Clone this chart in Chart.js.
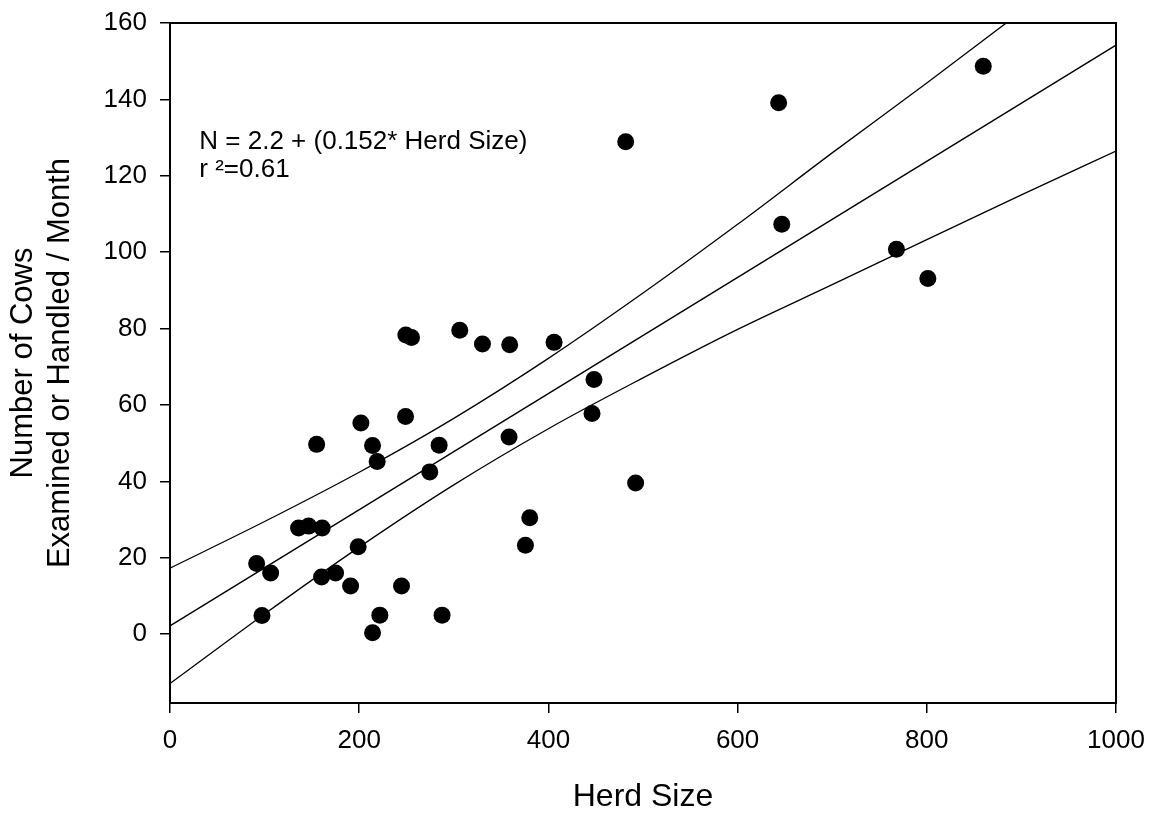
<!DOCTYPE html>
<html>
<head>
<meta charset="utf-8">
<script src="https://cdn.jsdelivr.net/npm/chart.js@4/dist/chart.umd.min.js"></script>
<style>
  html, body { margin: 0; padding: 0; background: #fff; }
  #wrap { width: 1149px; height: 814px; }
</style>
</head>
<body>
<div id="wrap"><canvas id="chart" width="1149" height="814"></canvas></div>
<script>
// Datos
const herdSize = [
  91.6, 97.2, 106.4, 135.9, 146.5, 160.9, 155.0, 160.2, 175.0, 190.9,
  198.9, 201.8, 214.1, 219.0, 214.1, 221.8, 244.7, 249.3, 255.3, 249.0,
  274.6, 284.5, 287.6, 306.3, 330.3, 359.1, 358.4, 380.3, 375.7, 406.0,
  448.2, 446.1, 492.2, 481.7, 643.4, 646.7, 767.9, 801.1, 859.7
];
const cowsPerMonth = [
  18.5, 4.9, 16.0, 27.8, 28.3, 27.8, 49.7, 15.0, 16.0, 12.6,
  22.9, 55.3, 49.4, 45.2, 0.4, 5.0, 12.6, 78.3, 77.7, 57.0,
  42.5, 49.5, 5.0, 79.6, 76.0, 75.8, 51.6, 30.5, 23.3, 76.4,
  66.7, 57.8, 39.6, 128.9, 139.1, 107.3, 100.8, 93.1, 148.7
];

// Recta de regresion (extremos leidos)
const fitX = [0, 1000];
const fitY = [2.2, 154.2];

// Bandas de confianza (valores leidos cada 100)
const bandX = [0, 100, 200, 300, 400, 500, 600, 700, 800, 900, 1000];
const upperBand = [17.3, 29.5, 42.4, 56.5, 72.2, 89.3, 107.3, 126.0, 144.3, 163.0, 181.9];
const lowerBand = [-12.9, 5.3, 22.8, 39.1, 53.8, 67.1, 79.8, 91.5, 103.3, 115.0, 126.5];

const xTicks = [0, 200, 400, 600, 800, 1000];
const annotationLines = ['N = 2.2 + (0.152* Herd Size)', 'r \u00b2=0.61'];

const FONT = '"Liberation Sans", Arial, Helvetica, sans-serif';

function toXY(xs, ys) {
  return xs.map((x, i) => ({ x: x, y: ys[i] }));
}

// Marco completo alrededor del area del grafico + texto de la ecuacion
const framePlugin = {
  id: 'frame',
  afterDatasetsDraw(chart) {
    const { ctx, chartArea, scales } = chart;
    ctx.save();
    ctx.strokeStyle = '#000';
    ctx.lineWidth = 2;
    ctx.strokeRect(chartArea.left, chartArea.top, chartArea.right - chartArea.left, chartArea.bottom - chartArea.top);

    ctx.fillStyle = '#000';
    ctx.font = '26px ' + FONT;
    ctx.textAlign = 'left';
    ctx.textBaseline = 'alphabetic';
    const x0 = scales.x.getPixelForValue(31);
    const y0 = scales.y.getPixelForValue(127.1);
    annotationLines.forEach((t, i) => {
      ctx.fillText(t, x0, y0 + i * 28);
    });
    ctx.restore();
  }
};

const lineStyle = {
  showLine: true,
  borderColor: '#000',
  borderWidth: 1.3,
  pointRadius: 0,
  fill: false
};

new Chart(document.getElementById('chart'), {
  type: 'scatter',
  data: {
    datasets: [
      Object.assign({ label: 'upper', data: toXY(bandX, upperBand), cubicInterpolationMode: 'monotone' }, lineStyle),
      Object.assign({ label: 'fit', data: toXY(fitX, fitY) }, lineStyle),
      Object.assign({ label: 'lower', data: toXY(bandX, lowerBand), cubicInterpolationMode: 'monotone' }, lineStyle),
      {
        label: 'herds',
        data: toXY(herdSize, cowsPerMonth),
        backgroundColor: '#000',
        borderColor: '#000',
        borderWidth: 0,
        pointRadius: 8.5,
        pointHoverRadius: 8.5
      }
    ]
  },
  options: {
    responsive: false,
    animation: false,
    events: [],
    layout: { padding: { top: 23, right: 33, left: 0, bottom: 0 } },
    plugins: {
      legend: { display: false },
      tooltip: { enabled: false }
    },
    scales: {
      x: {
        type: 'linear',
        min: 0,
        max: 1000,
        afterFit: (s) => { s.height = 111; },
        afterBuildTicks: (s) => { s.ticks = xTicks.map(v => ({ value: v })); },
        border: { display: true, color: '#000', width: 2 },
        grid: { drawOnChartArea: false, drawTicks: true, tickLength: 10, color: '#000', lineWidth: 1.5 },
        ticks: {
          color: '#000', font: { family: FONT, size: 26, lineHeight: 1.87 }, padding: 4, maxRotation: 0,
          callback: (v) => String(v)
        },
        title: {
          display: true,
          text: 'Herd Size',
          color: '#000',
          font: { family: FONT, size: 32, lineHeight: 1.05 },
          padding: { top: 0, bottom: 0 }
        }
      },
      y: {
        type: 'linear',
        min: -18,
        max: 160,
        afterFit: (s) => { s.width = 170; },
        border: { display: true, color: '#000', width: 2 },
        grid: { drawOnChartArea: false, drawTicks: true, tickLength: 10, color: '#000', lineWidth: 1.5 },
        ticks: { stepSize: 20, includeBounds: false, color: '#000', font: { family: FONT, size: 26, lineHeight: 0.74 }, padding: 13 },
        title: {
          display: true,
          text: ['Number of Cows', 'Examined or Handled / Month'],
          color: '#000',
          font: { family: FONT, size: 31, lineHeight: 1.2 },
          padding: { top: 5, bottom: 12 }
        }
      }
    }
  },
  plugins: [framePlugin]
});
</script>
</body>
</html>
